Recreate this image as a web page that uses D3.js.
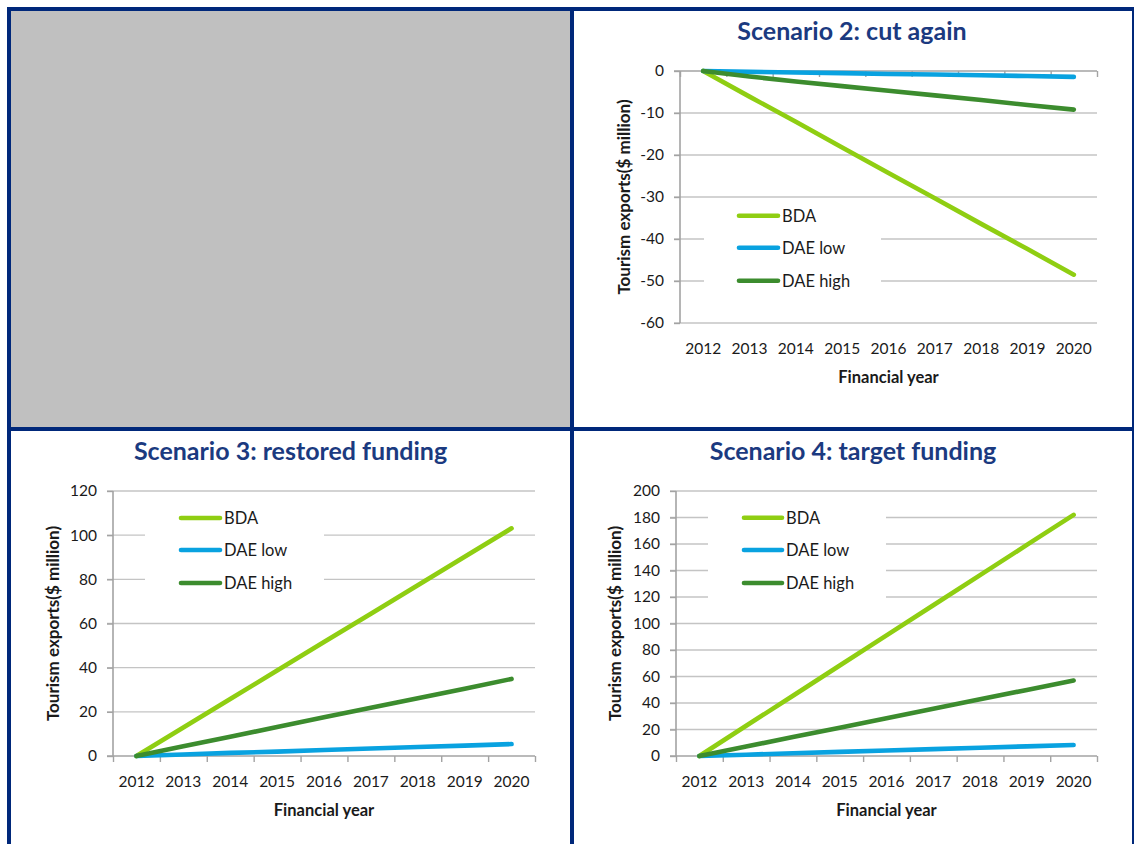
<!DOCTYPE html>
<html>
<head>
<meta charset="utf-8">
<script src="https://cdn.jsdelivr.net/npm/d3@7"></script>
<style>
  html, body { margin: 0; padding: 0; background: #ffffff; }
  svg { display: block; }
  text { font-family: Lato, "Open Sans", "Liberation Sans", sans-serif; }
</style>
</head>
<body>
<svg id="chart" width="1134" height="844"></svg>
<script>
// Financial years on the category axis
const years = ["2012", "2013", "2014", "2015", "2016", "2017", "2018", "2019", "2020"];
const seriesNames = ["BDA", "DAE low", "DAE high"];

// Scenario 2: cut again ($ million)
const s2Bda     = [0, -6.1, -12.1, -18.2, -24.3, -30.3, -36.4, -42.4, -48.5];
const s2DaeLow  = [0, -0.2, -0.35, -0.5, -0.7, -0.85, -1.0, -1.2, -1.4];
const s2DaeHigh = [0, -1.3, -2.5, -3.6, -4.7, -5.8, -6.9, -8.1, -9.2];
const s2Ticks   = [0, -10, -20, -30, -40, -50, -60];

// Scenario 3: restored funding ($ million)
const s3Bda     = [0, 12.9, 25.8, 38.7, 51.6, 64.4, 77.3, 90.2, 103.1];
const s3DaeLow  = [0, 0.7, 1.4, 2.0, 2.7, 3.4, 4.1, 4.7, 5.4];
const s3DaeHigh = [0, 4.4, 8.7, 13.1, 17.5, 21.8, 26.2, 30.5, 34.9];
const s3Ticks   = [0, 20, 40, 60, 80, 100, 120];

// Scenario 4: target funding ($ million)
const s4Bda     = [0, 22.8, 45.5, 68.3, 91.0, 113.8, 136.5, 159.3, 182.0];
const s4DaeLow  = [0, 1.0, 2.1, 3.1, 4.2, 5.2, 6.2, 7.3, 8.3];
const s4DaeHigh = [0, 7.1, 14.3, 21.4, 28.5, 35.6, 42.8, 49.9, 57.0];
const s4Ticks   = [0, 20, 40, 60, 80, 100, 120, 140, 160, 180, 200];

const seriesColors = ["#8fce12", "#09a2e0", "#3c8c2e"];
const navy = "#00287a";
const titleColor = "#1b3a80";
const gridColor = "#c4c4c4";
const axisColor = "#a3a3a3";

const svg = d3.select("#chart");

// Panel frame: grey empty quadrant and navy dividers
svg.append("rect").attr("x", 11).attr("y", 11).attr("width", 559).attr("height", 416).attr("fill", "#c0c0c0");
const frame = [
  [7, 7, 4, 837],      // left edge
  [7, 7, 1127, 4],     // top edge
  [1132, 7, 4, 837],   // right edge
  [570, 7, 4, 837],    // vertical divider
  [7, 427, 1127, 4]    // horizontal divider
];
svg.selectAll("rect.frame").data(frame).join("rect")
  .attr("class", "frame")
  .attr("x", d => d[0]).attr("y", d => d[1])
  .attr("width", d => d[2]).attr("height", d => d[3])
  .attr("fill", navy);

function drawPanel(cfg) {
  const g = svg.append("g");
  const [x0, x1] = cfg.xRange;
  const [yTop, yBot] = cfg.yRange;

  const x = d3.scaleBand().domain(years).range([x0, x1]).paddingInner(0).paddingOuter(0);
  const xEdge = d3.scaleLinear().domain([0, years.length]).range([x0, x1]);
  const y = d3.scaleLinear().domain(cfg.yDomain).range([yBot, yTop]);
  const yAxisY = y(0); // category axis crosses at zero

  // Horizontal gridlines (extend left as tick marks)
  g.selectAll("line.grid").data(cfg.yTicks.filter(v => v !== 0)).join("line")
    .attr("class", "grid")
    .attr("x1", x0 - 6).attr("x2", x1)
    .attr("y1", d => y(d)).attr("y2", d => y(d))
    .attr("stroke", gridColor).attr("stroke-width", 1.4);

  // Value axis labels (plain hyphen for negatives)
  const yAxis = d3.axisLeft(y).tickValues(cfg.yTicks).tickSize(6).tickPadding(10).tickFormat(d => String(d));
  const ya = g.append("g").attr("transform", `translate(${x0},0)`).call(yAxis);
  ya.select(".domain").remove();
  ya.selectAll(".tick line").attr("stroke", axisColor).attr("stroke-width", 1.4);
  ya.selectAll("text").attr("fill", "#1a1a1a").style("font-size", "15.5px");

  // Vertical axis line
  g.append("line").attr("x1", x0).attr("x2", x0).attr("y1", yTop).attr("y2", yBot)
    .attr("stroke", axisColor).attr("stroke-width", 1.6);

  // Category axis line at zero with boundary tick marks
  g.append("line").attr("x1", x0 - 6).attr("x2", x1).attr("y1", yAxisY).attr("y2", yAxisY)
    .attr("stroke", axisColor).attr("stroke-width", 1.6);
  const edgeAxis = d3.axisBottom(xEdge).tickValues(d3.range(0, years.length + 1)).tickSize(6).tickFormat("");
  const ea = g.append("g").attr("transform", `translate(0,${yAxisY})`).call(edgeAxis);
  ea.select(".domain").remove();
  ea.selectAll(".tick line").attr("stroke", axisColor).attr("stroke-width", 1.4);

  // Category labels sit below the plot area
  const xAxis = d3.axisBottom(x).tickSize(0).tickPadding(19.5);
  const xa = g.append("g").attr("transform", `translate(0,${yBot})`).call(xAxis);
  xa.select(".domain").remove();
  xa.selectAll("text").attr("fill", "#1a1a1a").style("font-size", "15.5px");

  // Legend (white box over the gridlines)
  const L = cfg.legend;
  g.append("rect").attr("x", L.boxX0).attr("y", L.rows[0] - 16)
    .attr("width", L.boxX1 - L.boxX0).attr("height", L.rows[2] - L.rows[0] + 34)
    .attr("fill", "#ffffff");
  seriesNames.forEach((name, i) => {
    g.append("line").attr("x1", L.swX0).attr("x2", L.swX1)
      .attr("y1", L.rows[i]).attr("y2", L.rows[i])
      .attr("stroke", seriesColors[i]).attr("stroke-width", 4.6).attr("stroke-linecap", "round");
    g.append("text").attr("x", L.textX).attr("y", L.rows[i]).attr("dy", "0.36em")
      .attr("fill", "#1a1a1a").style("font-size", "16.5px").text(name);
  });

  // Series lines
  const line = d3.line().x((d, i) => x(years[i]) + x.bandwidth() / 2).y(d => y(d));
  g.selectAll("path.series").data(cfg.series).join("path")
    .attr("class", "series")
    .attr("d", d => line(d))
    .attr("fill", "none")
    .attr("stroke", (d, i) => seriesColors[i])
    .attr("stroke-width", 4.6)
    .attr("stroke-linecap", "round")
    .attr("stroke-linejoin", "round");

  // Titles
  g.append("text").attr("x", cfg.titleX).attr("y", cfg.titleY).attr("text-anchor", "middle")
    .attr("fill", titleColor).style("font-size", "25px").style("font-weight", "bold").text(cfg.title);
  g.append("text").attr("x", (x0 + x1) / 2).attr("y", cfg.xTitleY).attr("text-anchor", "middle")
    .attr("fill", "#1a1a1a").style("font-size", "16.5px").style("font-weight", "bold").text("Financial year");
  g.append("text")
    .attr("transform", `translate(${cfg.yTitleX},${(yTop + yBot) / 2}) rotate(-90)`)
    .attr("text-anchor", "middle").attr("dy", "0.36em")
    .attr("fill", "#1a1a1a").style("font-size", "17px").style("font-weight", "bold")
    .text("Tourism exports($ million)");
}

drawPanel({
  title: "Scenario 2: cut again", titleX: 852, titleY: 39.5,
  xRange: [680, 1097], yRange: [71, 323], yDomain: [-60, 0], yTicks: s2Ticks,
  series: [s2Bda, s2DaeLow, s2DaeHigh],
  xTitleY: 383, yTitleX: 624,
  legend: { boxX0: 704, boxX1: 881, swX0: 739, swX1: 778, textX: 782, rows: [215.7, 247.7, 280.7] }
});

drawPanel({
  title: "Scenario 3: restored funding", titleX: 290.5, titleY: 459.5,
  xRange: [113, 535], yRange: [491, 756], yDomain: [0, 120], yTicks: s3Ticks,
  series: [s3Bda, s3DaeLow, s3DaeHigh],
  xTitleY: 816, yTitleX: 53,
  legend: { boxX0: 145, boxX1: 324, swX0: 181, swX1: 220, textX: 224, rows: [518, 550, 583] }
});

drawPanel({
  title: "Scenario 4: target funding", titleX: 853, titleY: 459.5,
  xRange: [676, 1097], yRange: [491, 756], yDomain: [0, 200], yTicks: s4Ticks,
  series: [s4Bda, s4DaeLow, s4DaeHigh],
  xTitleY: 816, yTitleX: 615,
  legend: { boxX0: 708, boxX1: 886, swX0: 744, swX1: 782, textX: 786, rows: [517.7, 550, 583] }
});
</script>
</body>
</html>
